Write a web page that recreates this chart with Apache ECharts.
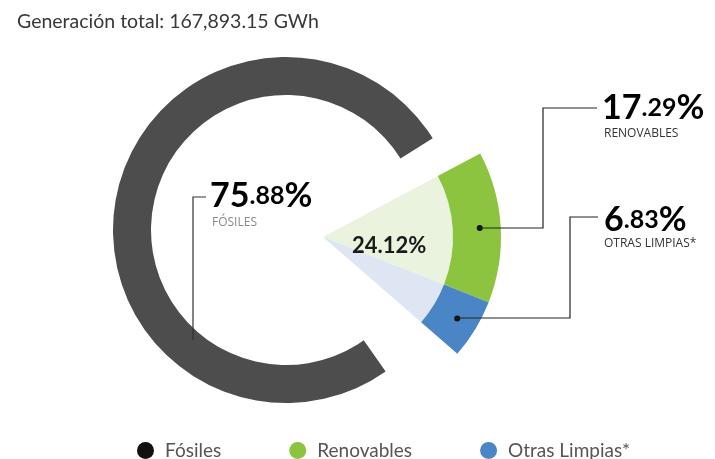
<!DOCTYPE html>
<html>
<head>
<meta charset="utf-8">
<script src="https://cdn.jsdelivr.net/npm/echarts@6/dist/echarts.min.js"></script>
<style>
  html, body { margin: 0; padding: 0; background: #fff; }
  #chart { width: 715px; height: 459px; }
</style>
</head>
<body>
<div id="chart"></div>
<script>
// datos
var totalGWh = 167893.15;
var categorias = ['Fósiles', 'Renovables', 'Otras Limpias*'];
var valores = [75.88, 17.29, 6.83];
var coloresFuertes = ['#4d4d4d', '#8cc43f', '#4a86c6'];
var coloresClaros = ['#4d4d4d', '#e9f3de', '#dde6f2'];
var coloresLeyenda = ['#111111', '#8cc43f', '#4a86c6'];

document.addEventListener('DOMContentLoaded', function() {
    var chartDom = document.getElementById('chart');
    var myChart = echarts.init(chartDom);
    var fuente = 'Lato';
    var fuente2 = 'Open Sans';

    var limpias = valores[1] + valores[2];

    // partir "75.88" en "75" y ".88"
    function partes(v) {
        var s = v.toFixed(2).split('.');
        return '{g|' + s[0] + '}{p|.' + s[1] + '}{g|%}';
    }
    var rich = {
        g: { fontSize: 34, fontWeight: 'bold', color: '#151515', fontFamily: fuente, verticalAlign: 'bottom', lineHeight: 36 },
        p: { fontSize: 25, fontWeight: 'bold', color: '#222', fontFamily: fuente, verticalAlign: 'bottom', lineHeight: 36, padding: [0, 0, 5, 0] }
    };

    var punto = {
        show: true,
        position: 'inside',
        formatter: '{d|}',
        rich: { d: { width: 6, height: 6, borderRadius: 3, backgroundColor: '#111' } }
    };

    var option = {
        animation: false,
        title: {
            text: 'Generación total: ' + totalGWh.toLocaleString('en-US', { minimumFractionDigits: 2 }) + ' GWh',
            left: 12,
            top: 7,
            textStyle: { fontSize: 19.5, fontWeight: 'normal', color: '#383838', fontFamily: fuente }
        },
        legend: {
            left: 132,
            top: 436,
            icon: 'circle',
            itemWidth: 17,
            itemHeight: 17,
            itemGap: 68,
            textStyle: { fontSize: 19, color: '#555', fontFamily: fuente, padding: [0, 0, 0, 6] },
            data: categorias.map(function(c, i) {
                return { name: c, itemStyle: { color: coloresLeyenda[i] } };
            })
        },
        series: [
            {
                // anillo de fósiles
                type: 'pie',
                silent: true,
                center: [286, 230],
                radius: [135, 173],
                startAngle: 32,
                label: { show: false },
                labelLine: { show: false },
                data: [
                    { name: 'resto', value: limpias, itemStyle: { color: 'transparent' } },
                    { name: categorias[0], value: valores[0], itemStyle: { color: coloresFuertes[0] } }
                ]
            },
            {
                // cuña clara
                type: 'pie',
                silent: true,
                center: [323, 237],
                radius: [0, 130],
                startAngle: 28,
                endAngle: -41,
                label: { show: false },
                labelLine: { show: false },
                data: [
                    { name: categorias[1], value: valores[1], itemStyle: { color: coloresClaros[1] } },
                    { name: categorias[2], value: valores[2], itemStyle: { color: coloresClaros[2] } }
                ]
            },
            {
                // banda de color
                type: 'pie',
                silent: true,
                center: [323, 237],
                radius: [130, 178],
                startAngle: 28,
                endAngle: -41,
                label: punto,
                labelLine: { show: false },
                data: [
                    { name: categorias[1], value: valores[1], itemStyle: { color: coloresFuertes[1] } },
                    { name: categorias[2], value: valores[2], itemStyle: { color: coloresFuertes[2] } }
                ]
            }
        ],
        graphic: [
            { type: 'polyline', z: 10, shape: { points: [[206, 197], [193, 197], [193, 340]] }, style: { stroke: '#333', lineWidth: 1.2, fill: null } },
            { type: 'polyline', z: 10, shape: { points: [[478, 228], [543, 228], [543, 108], [597, 108]] }, style: { stroke: '#222', lineWidth: 1.2, fill: null } },
            { type: 'polyline', z: 10, shape: { points: [[456, 318], [570, 318], [570, 217], [598, 217]] }, style: { stroke: '#222', lineWidth: 1.2, fill: null } },

            { type: 'text', z: 10, left: 210, top: 179, style: { text: partes(valores[0]), rich: rich } },
            { type: 'text', z: 10, left: 212, top: 217, style: { text: categorias[0].toUpperCase(), fontSize: 12, fill: '#8a8a8a', fontFamily: fuente2 } },

            { type: 'text', z: 10, left: 602, top: 91, style: { text: partes(valores[1]), rich: rich } },
            { type: 'text', z: 10, left: 604, top: 128, style: { text: categorias[1].toUpperCase(), fontSize: 12, fill: '#333', fontFamily: fuente2 } },

            { type: 'text', z: 10, left: 604, top: 203, style: { text: partes(valores[2]), rich: rich } },
            { type: 'text', z: 10, left: 604, top: 238, style: { text: categorias[2].toUpperCase(), fontSize: 12, fill: '#333', fontFamily: fuente2 } },

            { type: 'text', z: 10, left: 352, top: 235, style: { text: limpias.toFixed(2) + '%', fontSize: 22, fontWeight: 'bold', fill: '#1a1a1a', fontFamily: fuente } }
        ]
    };

    myChart.setOption(option);
});
</script>
</body>
</html>
